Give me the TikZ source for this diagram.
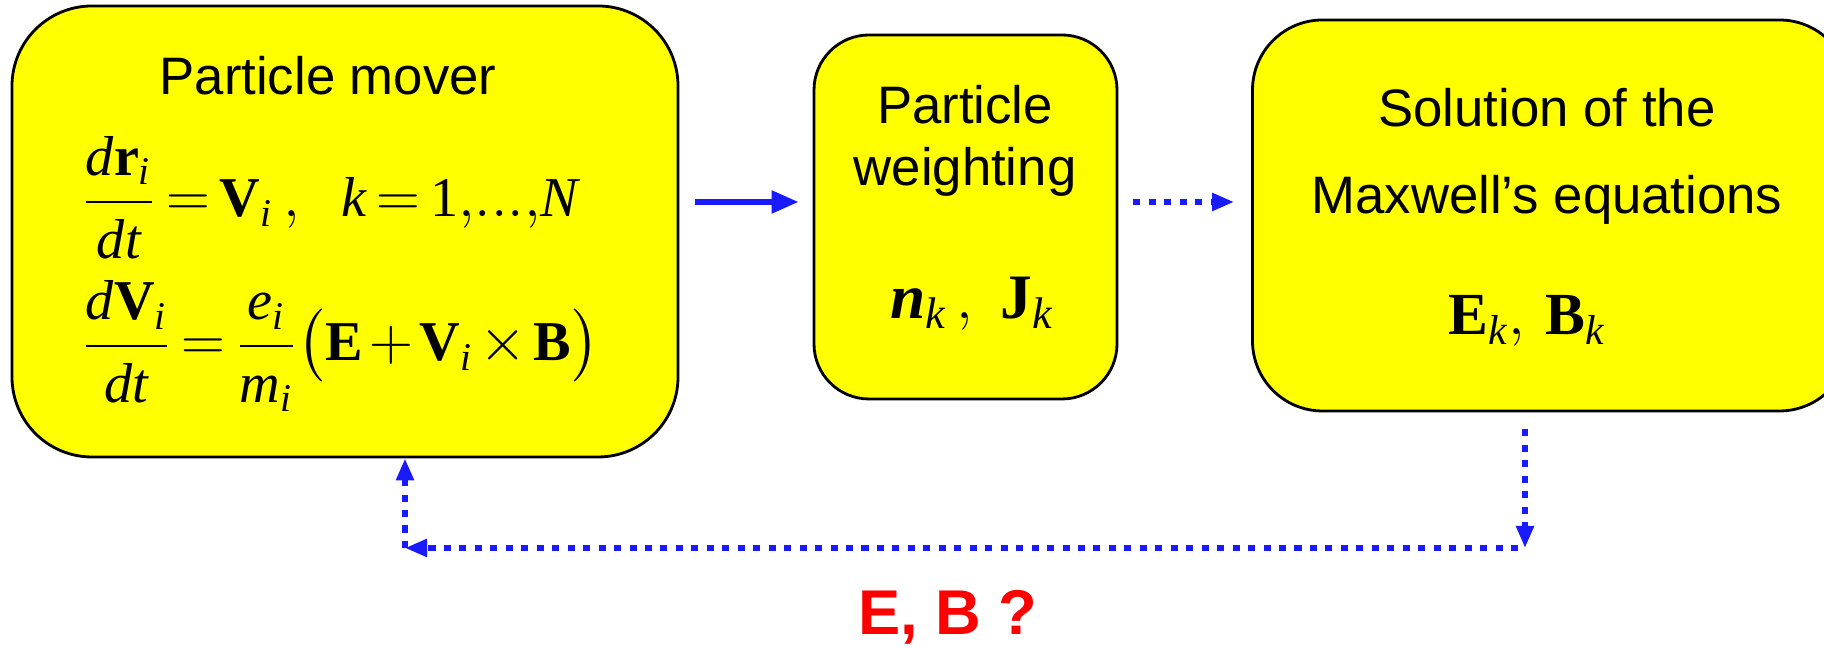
\documentclass[tikz,border=0pt]{standalone}
\usepackage{amsmath}
\usepackage{mathspec}
\setmainfont{Liberation Sans}
\setmathsfont(Digits,Latin){Liberation Serif}
\setmathrm{Liberation Serif}
\newfontfamily\serifface{Liberation Serif}
\newcommand\tightmath{\medmuskip=2mu\relax\thickmuskip=3mu\relax}
\definecolor{boxyellow}{RGB}{255,255,0}
\definecolor{flowblue}{RGB}{26,26,255}
\definecolor{askred}{RGB}{255,0,0}
\usetikzlibrary{arrows.meta,positioning}

\begin{document}
\begin{tikzpicture}[
  stage/.style={draw=black, line width=0.8pt, fill=boxyellow},
  boxtext/.style={font=\fontsize{15}{17.6}\selectfont, align=center},
  eqtext/.style={font=\fontsize{16}{19}\selectfont, anchor=base west, inner sep=0pt},
  symtext/.style={font=\fontsize{18}{21}\selectfont, anchor=base},
  flow/.style={-{Triangle[length=0.27cm,width=0.22cm]}, line width=1.5pt, flowblue},
  dotflow/.style={-{Triangle[length=0.22cm,width=0.17cm]}, line width=1.5pt, flowblue, dash pattern=on 2pt off 2.4pt}
]
  \useasboundingbox (0,0) rectangle (18.24,6.48);
  \clip (0,0) rectangle (18.24,6.48);

  %--- PIC cycle ---
  % Particle mover
  \node[stage, rounded corners=0.8cm, minimum width=6.66cm, minimum height=4.51cm] (mover) at (3.45,4.165) {};
  \node[boxtext] (movertitle) at (3.28,5.72) {Particle mover};
  \node[eqtext] (eqa) at (0.81,4.31) {$\displaystyle\tightmath \frac{d\mathbf{r}_i}{dt}=\mathbf{V}_i\,,\ \ k=1,\!...,\!N$};
  \node[eqtext] (eqb) at (0.81,2.87) {$\displaystyle\tightmath \frac{d\mathbf{V}_i}{dt}=\frac{e_i}{m_i}\bigl(\mathbf{E}+\mathbf{V}_i\times\mathbf{B}\bigr)$};

  % Weighting
  \node[stage, rounded corners=0.55cm, minimum width=3.03cm, minimum height=3.64cm] (weight) at (9.655,4.31) {};
  \node[boxtext] (weighttitle) at (9.65,5.07) {Particle\\weighting};
  \node[symtext] (moments) at (9.72,3.29) {$\mbox{\serifface\bfseries\itshape n}_k\,,\ \mathbf{J}_k$};

  % Field solver
  \node[stage, rounded corners=0.7cm, minimum width=5.97cm, minimum height=3.91cm] (maxwell) at (15.51,4.325) {};
  \node[boxtext, font=\fontsize{15}{24.7}\selectfont] (maxwelltitle) at (15.47,4.92) {Solution of the\\Maxwell’s equations};
  \node[symtext, font=\fontsize{17}{20}\selectfont] (fields) at (15.27,3.13) {$\mathbf{E}_k,\,\mathbf{B}_k$};

  \draw[flow, shorten <=0.16cm, shorten >=0.14cm] (mover.east |- 0,4.46) -- (weight.west |- 0,4.46);
  \draw[dotflow, shorten <=0.15cm, shorten >=0.17cm] (weight.east |- 0,4.46) -- (maxwell.west |- 0,4.46);

  %--- feedback ---
  \coordinate (turnr) at (15.25,1.0);
  \coordinate (turnl) at (4.05,1.0);
  \draw[dotflow, shorten <=0.17cm] (maxwell.south -| turnr) -- (turnr);
  \draw[dotflow, shorten <=0.07cm] (turnr) -- (turnl);
  \draw[dotflow] (turnl) -- (mover.south -| turnl);

  \node[font=\fontsize{18}{20}\selectfont\bfseries, text=askred] (query) at (9.48,0.31) {E, B ?};
\end{tikzpicture}
\end{document}
